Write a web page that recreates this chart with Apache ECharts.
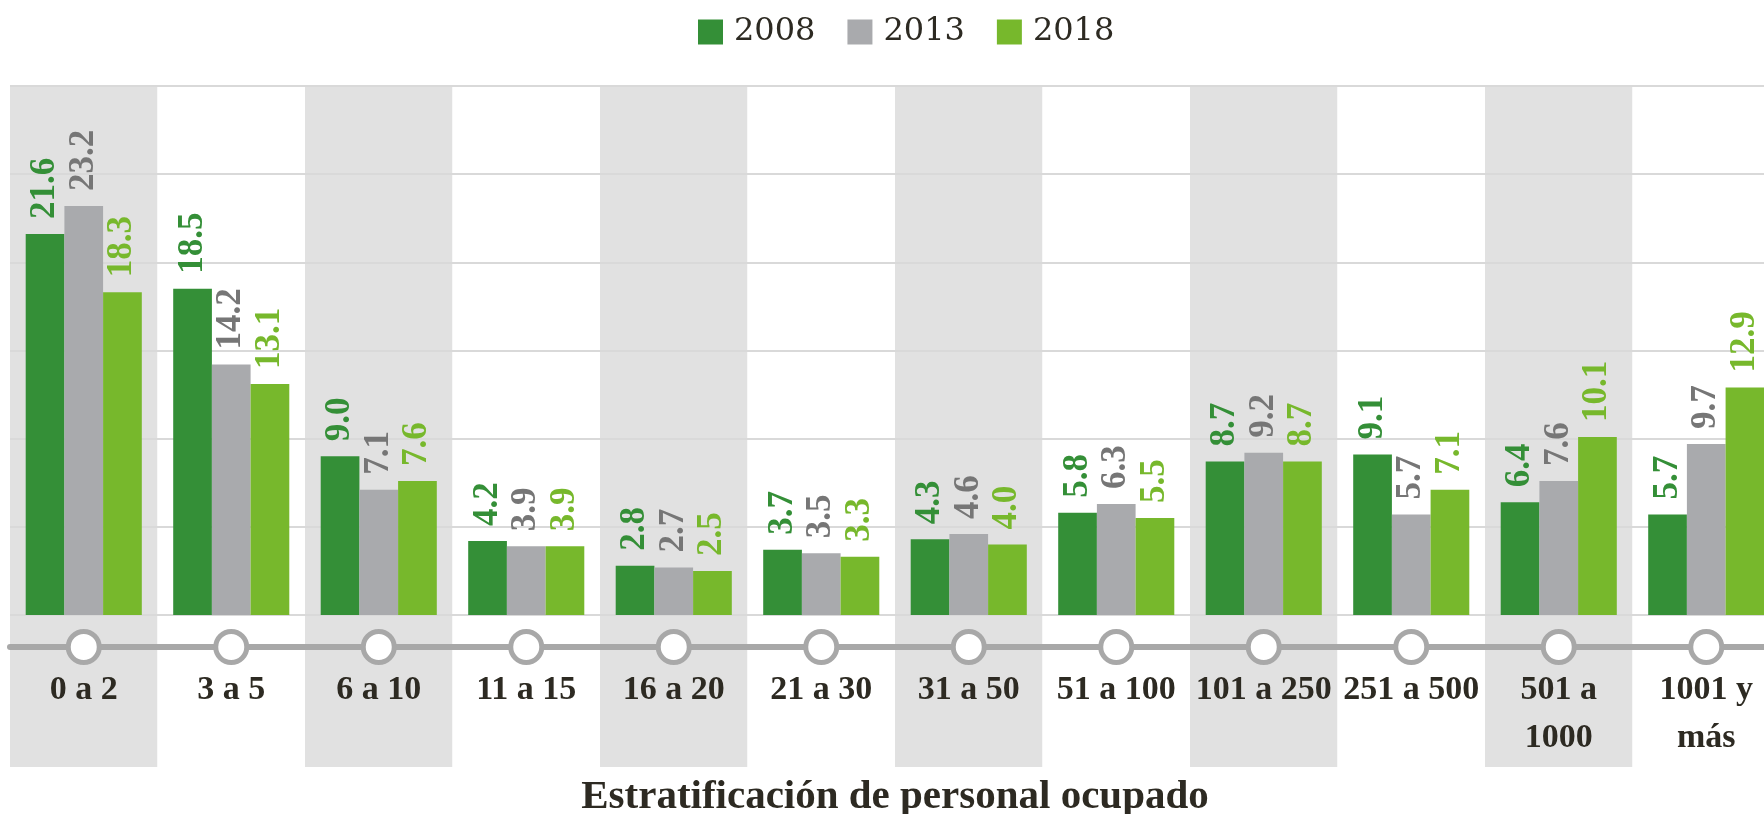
<!DOCTYPE html>
<html>
<head>
<meta charset="utf-8">
<script src="https://cdn.jsdelivr.net/npm/echarts@6/dist/echarts.min.js"></script>
<style>
html,body{margin:0;padding:0;background:#fff;overflow:hidden;width:1764px;height:814px;}
#chart{width:1780px;height:814px;}
</style>
</head>
<body>
<div id="chart"></div>
<script>
const categories = ["0 a 2", "3 a 5", "6 a 10", "11 a 15", "16 a 20", "21 a 30", "31 a 50", "51 a 100", "101 a 250", "251 a 500", "501 a\n1000", "1001 y\nmás"];
const seriesNames = ["2008", "2013", "2018"];
const values2008 = [21.6, 18.5, 9.0, 4.2, 2.8, 3.7, 4.3, 5.8, 8.7, 9.1, 6.4, 5.7];
const values2013 = [23.2, 14.2, 7.1, 3.9, 2.7, 3.5, 4.6, 6.3, 9.2, 5.7, 7.6, 9.7];
const values2018 = [18.3, 13.1, 7.6, 3.9, 2.5, 3.3, 4.0, 5.5, 8.7, 7.1, 10.1, 12.9];
const axisMarkers = [0, 0, 0, 0, 0, 0, 0, 0, 0, 0, 0, 0];
const xAxisTitle = "Estratificación de personal ocupado";

const FONT = "'Liberation Serif'";
const FONT_REG = "'DejaVu Serif'";
const TEXT = "#2d2a22";
const barColors = ["#348f37", "#a9aaad", "#77b82c"];
const labelColors = ["#348f37", "#767676", "#77b82c"];
const seriesData = [values2008, values2013, values2018];

const chart = echarts.init(document.getElementById('chart'), null, {renderer: 'canvas'});

const barSeries = seriesNames.map((name, i) => ({
  name: name,
  type: 'bar',
  xAxisIndex: 1,
  yAxisIndex: 1,
  data: seriesData[i],
  barWidth: 38.7,
  barGap: '0%',
  itemStyle: {color: barColors[i]},
  z: 3,
  label: {
    show: true,
    position: 'top',
    rotate: 90,
    align: 'left',
    verticalAlign: 'middle',
    distance: 15,
    color: labelColors[i],
    fontFamily: FONT,
    fontWeight: 'bold',
    fontSize: 35,
    formatter: p => Number(p.value).toFixed(1)
  }
}));

const GRID_LEFT = 10, GRID_RIGHT = 0;

const option = {
  animation: false,
  backgroundColor: '#ffffff',
  legend: {
    data: seriesNames,
    top: 11,
    left: 693,
    icon: 'rect',
    itemWidth: 25,
    itemHeight: 25,
    itemGap: 32,
    textStyle: {fontFamily: FONT_REG, fontSize: 32, color: TEXT, padding: [0, 0, 0, 6]}
  },
  grid: [
    {left: GRID_LEFT, right: GRID_RIGHT, top: 86, bottom: 47, outerBoundsMode: 'none', containLabel: false},
    {left: GRID_LEFT, right: GRID_RIGHT, top: 86, bottom: 199, outerBoundsMode: 'none', containLabel: false},
    {left: GRID_LEFT, right: GRID_RIGHT, top: 600, bottom: 167, outerBoundsMode: 'none', containLabel: false}
  ],
  xAxis: [
    {
      type: 'category', gridIndex: 0, data: categories, z: 0,
      axisLine: {show: false}, axisTick: {show: false}, axisLabel: {show: false},
      splitLine: {show: false},
      splitArea: {show: true, interval: 0, areaStyle: {color: ['#e1e1e1', '#ffffff']}}
    },
    {
      type: 'category', gridIndex: 1, data: categories, z: 1,
      axisLine: {show: false}, axisTick: {show: false}, axisLabel: {show: false},
      splitLine: {show: false}
    },
    {
      type: 'category', gridIndex: 2, data: categories, z: 1,
      axisLine: {show: true, lineStyle: {color: '#a8a8a8', width: 6}},
      axisTick: {show: false},
      axisLabel: {
        show: true, interval: 0, margin: 19,
        fontFamily: FONT, fontWeight: 'bold', fontSize: 34, lineHeight: 48,
        color: TEXT, verticalAlign: 'top'
      },
      name: xAxisTitle,
      nameLocation: 'middle',
      nameGap: 130,
      nameTextStyle: {fontFamily: FONT, fontWeight: 'bold', fontSize: 41, color: TEXT}
    }
  ],
  yAxis: [
    {type: 'value', gridIndex: 0, show: false, min: 0, max: 1},
    {
      type: 'value', gridIndex: 1, min: 0, max: 30, interval: 5, z: 1,
      axisLine: {show: false}, axisTick: {show: false}, axisLabel: {show: false},
      splitLine: {show: true, lineStyle: {color: '#d9d9d9', width: 2}}
    },
    {type: 'value', gridIndex: 2, show: false, min: 0, max: 1}
  ],
  series: barSeries.concat([{
    type: 'scatter',
    xAxisIndex: 2,
    yAxisIndex: 2,
    data: axisMarkers,
    symbol: 'circle',
    symbolSize: 31,
    clip: false,
    z: 5,
    itemStyle: {color: '#ffffff', borderColor: '#a8a8a8', borderWidth: 5, opacity: 1},
    emphasis: {disabled: true},
    silent: true
  }])
};
chart.setOption(option);
</script>
</body>
</html>
